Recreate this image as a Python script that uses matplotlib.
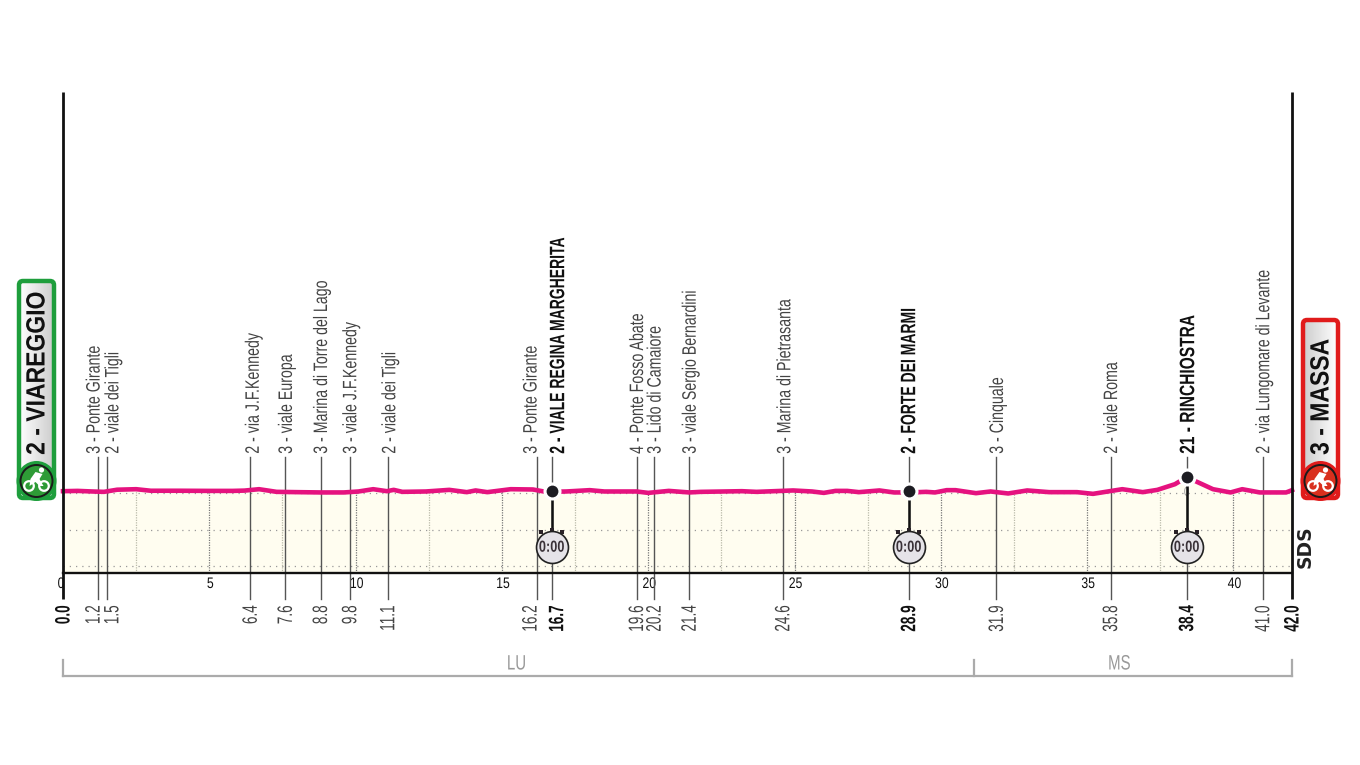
import numpy as np
import matplotlib
matplotlib.use('Agg')
import matplotlib.pyplot as plt
from matplotlib.patches import FancyBboxPatch, Circle, Polygon
from matplotlib.patheffects import AbstractPathEffect
from matplotlib.transforms import Affine2D

plt.rcParams['font.family'] = ['Liberation Sans', 'DejaVu Sans']

# route profile
profile_km = [0, 0.5, 1.0, 1.4, 1.85, 2.5, 3.0, 4.0, 5.0, 5.8, 6.2, 6.7, 7.3, 8.0, 8.8, 9.6,
              10.1, 10.6, 11.07, 11.3, 11.6, 12.4, 13.2, 13.8, 14.1, 14.5, 15.3, 16.06, 16.5,
              17.2, 18.0, 18.5, 19.6, 20.0, 20.7, 21.4, 21.8, 23.2, 23.7, 24.95, 25.6, 26.0,
              26.4, 26.8, 27.2, 27.9, 28.4, 28.95, 29.5, 29.8, 30.2, 30.5, 31.2, 31.7, 32.3,
              32.95, 33.7, 34.65, 35.2, 36.2, 36.9, 37.4, 38.0, 38.4, 38.9, 39.3, 39.9, 40.3,
              40.9, 41.8, 42.0]
profile_alt = [2.0, 2.4, 1.6, 1.1, 4.0, 4.7, 2.6, 2.6, 2.4, 2.4, 2.8, 4.7, 1.1, 0.7, 0.3, 0.3,
               1.6, 4.7, 2.0, 3.8, 1.1, 1.6, 3.8, 0.7, 3.0, 0.7, 4.7, 4.3, 1.1,
               1.6, 3.4, 1.6, 1.6, -0.3, 2.4, 0.3, 1.1, 2.0, 1.1, 3.0, 1.6, -0.3,
               2.4, 2.4, 0.7, 3.0, 0.3, 0.3, 1.1, 0.3, 3.4, 3.4, -0.7, 1.6, -1.1,
               3.0, 0.7, 0.7, -1.6, 4.7, 0.7, 3.8, 11.5, 21.0, 12.0, 4.7, 0.3, 4.7,
               0.3, 0.3, 3.4]

# intermediate points
point_km = [1.2, 1.5, 6.4, 7.6, 8.8, 9.8, 11.1, 16.2, 16.7, 19.6, 20.2, 21.4, 24.6,
            28.9, 31.9, 35.8, 38.4, 41.0]
point_names = ['3 - Ponte Girante', '2 - viale dei Tigli', '2 - via J.F.Kennedy',
               '3 - viale Europa', '3 - Marina di Torre del Lago', '3 - viale J.F.Kennedy',
               '2 - viale dei Tigli', '3 - Ponte Girante', '2 - VIALE REGINA MARGHERITA',
               '4 - Ponte Fosso Abate', '3 - Lido di Camaiore', '3 - viale Sergio Bernardini',
               '3 - Marina di Pietrasanta', '2 - FORTE DEI MARMI', '3 - Cinquale',
               '2 - viale Roma', '21 - RINCHIOSTRA', '2 - via Lungomare di Levante']
point_labels = ['1.2', '1.5', '6.4', '7.6', '8.8', '9.8', '11.1', '16.2', '16.7', '19.6',
                '20.2', '21.4', '24.6', '28.9', '31.9', '35.8', '38.4', '41.0']
timed_km = [16.7, 28.9, 38.4]
timed_alt = [2, 2, 21]
name_nudge_px = {1.2: -5, 1.5: 5, 6.4: 2, 16.2: -7, 16.7: 5, 24.6: 1, 28.9: -1, 11.1: 1}
label_nudge_px = {1.2: -5, 1.5: 5, 16.2: -7, 16.7: 5}
name_squeeze = {38.4: 0.745}

km_ticks = [0, 5, 10, 15, 20, 25, 30, 35, 40]
grid_km = [2.5, 5, 7.5, 10, 12.5, 15, 17.5, 20, 22.5, 25, 27.5, 30, 32.5, 35, 37.5, 40]
grid_alt = [0, -50, -100]

province_breaks = [0, 31.13, 42]
province_names = ['LU', 'MS']
province_label_km = [15.5, 36.1]

LEFT, RIGHT, TOP, BOTTOM = 63, 1292, 92, 573
INK = '#111111'
GREY = '#444444'
PINK = '#E5127F'


class Narrow(AbstractPathEffect):
    # no condensed font installed, so squeeze the glyphs along the baseline
    def __init__(self, sx, anchor='start'):
        super().__init__()
        self.sx = sx
        self.anchor = anchor

    def draw_path(self, renderer, gc, tpath, affine, rgbFace=None):
        ext = tpath.get_extents()
        x0 = {'start': ext.x0, 'center': (ext.x0 + ext.x1) / 2, 'end': ext.x1}[self.anchor]
        squeeze = Affine2D().translate(-x0, 0).scale(self.sx, 1).translate(x0, 0)
        renderer.draw_path(gc, tpath, squeeze + affine, rgbFace)


def yfrac(py):
    return (BOTTOM - py) / (BOTTOM - TOP)


fig = plt.figure(figsize=(13.6, 7.65), dpi=100)
ax = fig.add_axes([LEFT / 1360, 1 - BOTTOM / 765, (RIGHT - LEFT) / 1360, (BOTTOM - TOP) / 765])
ax.set_xlim(0, 42)
ax.set_ylim(-109, 543.6)
ax.axis('off')
tr = ax.get_xaxis_transform()

# paper-coloured area under the road and the dotted grid
ax.fill_between(profile_km, profile_alt, -109, color='#FFFDF0', lw=0, zorder=1)
for g in grid_alt:
    ax.plot([0, 42], [g, g], color='#999999', lw=0.9, ls=(0, (1, 4)), zorder=2)
for k in grid_km:
    top = np.interp(k, profile_km, profile_alt)
    major = k % 5 == 0
    ax.plot([k, k], [-109, top], color='#777777' if major else '#BBBBAA', lw=0.9,
            ls=(0, (1, 1)), zorder=2)
ax.text(38.4, 0, '0', color='#999999', fontsize=9, ha='center', va='center', zorder=2,
        path_effects=[Narrow(0.8, 'center')])

# frame
for k in [0, 42]:
    ax.plot([k, k], [yfrac(92), yfrac(599)], transform=tr, color=INK, lw=2.0,
            clip_on=False, solid_capstyle='butt', zorder=6)
ax.plot([0, 42], [yfrac(573), yfrac(573)], transform=tr, color=INK, lw=1.7, clip_on=False, zorder=6)

# km numbers
for k in km_ticks:
    ax.annotate(str(k), (k, yfrac(584)), xycoords=tr, xytext=(-2 if k == 0 else 1, 0),
                textcoords='offset pixels', ha='center', va='center', fontsize=11, color=INK,
                path_effects=[Narrow(0.8, 'center')])

# checkpoint lines, names and km marks
for k, name, lab in zip(point_km, point_names, point_labels):
    bold = k in timed_km
    ax.plot([k, k], [yfrac(599), yfrac(457)], transform=tr, color='#555555', lw=1.0,
            clip_on=False, zorder=3)
    ax.annotate(name, (k, yfrac(454)), xycoords=tr, xytext=(name_nudge_px.get(k, 0) + 2, 0),
                textcoords='offset pixels', rotation=90, ha='center', va='bottom',
                fontsize=15 if bold else 14, fontweight='bold' if bold else 'normal',
                color=INK if bold else GREY,
                path_effects=[Narrow(name_squeeze.get(k, 0.67 if bold else 0.73))])
    ax.annotate(lab, (k, yfrac(605)), xycoords=tr, xytext=(label_nudge_px.get(k, 0) + 1, 0),
                textcoords='offset pixels', rotation=90, ha='center', va='top',
                fontsize=15, fontweight='bold' if bold else 'normal',
                color=INK if bold else GREY, annotation_clip=False,
                path_effects=[Narrow(0.65, 'end')])
for k, lab in zip([0, 42], ['0.0', '42.0']):
    ax.annotate(lab, (k, yfrac(605)), xycoords=tr, xytext=(1, 0), textcoords='offset pixels',
                rotation=90, ha='center', va='top', fontsize=15, fontweight='bold', color=INK,
                annotation_clip=False, path_effects=[Narrow(0.65, 'end')])

# road
ax.plot(profile_km, profile_alt, color=PINK, lw=3.3, solid_joinstyle='round', zorder=4, clip_on=False)

# intermediate time checks with stopwatches
for k, a in zip(timed_km, timed_alt):
    ax.plot([k, k], [a, -74], color=INK, lw=1.8, zorder=5)
    ax.plot(k, a, 'o', ms=13, color='white', mew=0, zorder=5)
    ax.plot(k, a, 'o', ms=8.5, color='#1C1C22', mew=0, zorder=6)
    ax.plot([k - 0.35, k, k + 0.35], [-54, -51, -54], 's', ms=3.4, color='#2A2228', mew=0, zorder=6)
    ax.plot(k, -74, 'o', ms=23, mfc='#E5E3E8', mec='#222222', mew=1.2, zorder=6)
    ax.text(k, -74, '0:00', fontsize=11.5, fontweight='bold', color='#3A3238', ha='center',
            va='center', zorder=7, path_effects=[Narrow(0.8, 'center')])

# province bracket
bracket_y = [yfrac(660), yfrac(676)]
for k in province_breaks:
    ax.plot([k, k], bracket_y, transform=tr, color='#ABABAB', lw=1.6, clip_on=False)
ax.plot([0, 42], [bracket_y[1], bracket_y[1]], transform=tr, color='#ABABAB', lw=1.6, clip_on=False)
for k, name in zip(province_label_km, province_names):
    ax.text(k, yfrac(664), name, transform=tr, color='#999999', fontsize=15, ha='center', va='center',
            path_effects=[Narrow(0.72, 'center')])

# page overlay in pixel coordinates for the start and finish badges
over = fig.add_axes([0, 0, 1, 1], zorder=10)
over.set_xlim(0, 1360)
over.set_ylim(765, 0)
over.axis('off')
over.patch.set_alpha(0)


def badge(x0, x1, y0, y1, edge, dark, text, flip):
    box = FancyBboxPatch((x0 + 3, y0 + 3), x1 - x0 - 6, y1 - y0 - 6, boxstyle='round,pad=0,rounding_size=4',
                         fc='none', ec=edge, lw=3.2, zorder=2)
    over.add_patch(box)
    shade = np.linspace(1, 0.80, 64)[None, :]
    if flip:
        shade = shade[:, ::-1]
    im = over.imshow(shade, cmap='gray', vmin=0, vmax=1, extent=(x0 + 3, x1 - 3, y1 - 3, y0 + 3),
                     aspect='auto', zorder=1)
    im.set_clip_path(box)
    over.set_xlim(0, 1360)
    over.set_ylim(765, 0)
    cx = (x0 + x1) / 2
    cy = y1 - 20
    over.add_patch(Circle((cx, cy), 20, fc=edge, ec='none', zorder=3))
    over.add_patch(Circle((cx, cy), 17, fc='#1B1B1B', ec='none', zorder=3))
    over.add_patch(Circle((cx, cy), 15, fc=dark, ec='none', zorder=3))
    # rider
    for dx in (-7.5, 7.5):
        over.add_patch(Circle((cx + dx, cy + 5), 4.8, fc='none', ec='white', lw=1.6, zorder=4))
    over.add_patch(Polygon([(cx - 6, cy - 2), (cx - 1, cy - 9), (cx + 6, cy - 7), (cx + 3, cy - 2),
                            (cx + 7, cy + 5), (cx + 3, cy + 5), (cx - 1, cy + 1), (cx - 7, cy + 5)],
                           fc='white', ec='none', zorder=4))
    over.add_patch(Circle((cx + 5, cy - 11), 2.6, fc='white', ec='none', zorder=4))
    over.text(cx + 1, 455, text, rotation=90, ha='center', va='bottom', fontsize=19, fontweight='bold',
              color=INK, zorder=5, path_effects=[Narrow(0.87)])


badge(16, 57, 278, 501, '#1E9E3C', '#2E9B36', '2 - VIAREGGIO', False)
badge(1300, 1341, 317, 501, '#E01B1B', '#D9301E', '3 - MASSA', True)

over.text(1305, 547, 'SDS', rotation=90, ha='center', va='center', fontsize=13.5, fontweight='bold',
          family='DejaVu Sans', color='#222222')

fig.savefig('out.png', dpi=100)
